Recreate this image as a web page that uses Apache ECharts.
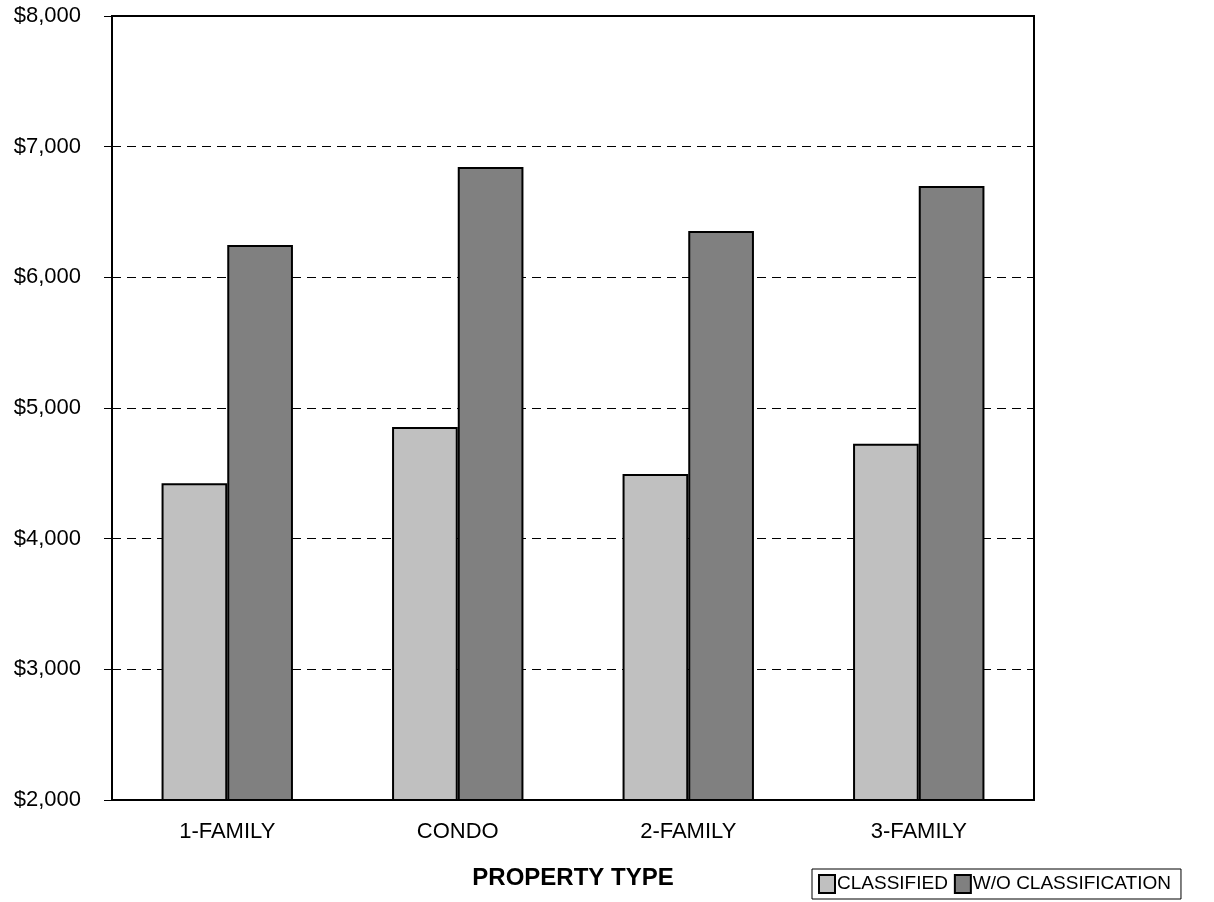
<!DOCTYPE html>
<html>
<head>
<meta charset="utf-8">
<script src="https://cdn.jsdelivr.net/npm/echarts@6/dist/echarts.min.js"></script>
<style>
  html, body { margin: 0; padding: 0; background: #fff; }
  #chart { width: 1214px; height: 902px; }
</style>
</head>
<body>
<div id="chart"></div>
<script>
// Property types along the x axis
const categories = ['1-FAMILY', 'CONDO', '2-FAMILY', '3-FAMILY'];
// Average values per property type
const classified = [4424, 4855, 4495, 4727];
const withoutClassification = [6248, 6844, 6355, 6699];
// Value axis range
const yMin = 2000;
const yMax = 8000;
const yStep = 1000;

const FONT = '"Liberation Sans", Arial, sans-serif';

const chart = echarts.init(document.getElementById('chart'), null, { renderer: 'canvas' });

const fmtMoney = v => '$' + v.toLocaleString('en-US');

chart.setOption({
  backgroundColor: '#ffffff',
  animation: false,
  grid: {
    left: 112, top: 16, right: 180, bottom: 102,
    show: true, borderColor: '#000', borderWidth: 2, backgroundColor: 'transparent'
  },
  legend: {
    left: 812, top: 869,
    orient: 'horizontal',
    itemWidth: 16, itemHeight: 18, itemGap: 6,
    padding: [5, 10, 5, 6],
    borderColor: '#000', borderWidth: 1,
    icon: 'rect',
    textStyle: { fontFamily: FONT, fontSize: 19, color: '#000', padding: [0, 0, 0, -3] },
    data: ['CLASSIFIED', 'W/O CLASSIFICATION']
  },
  xAxis: {
    type: 'category',
    data: categories,
    name: 'PROPERTY TYPE',
    nameLocation: 'middle',
    nameGap: 66,
    nameTextStyle: { fontFamily: FONT, fontSize: 24, fontWeight: 'bold', color: '#000' },
    axisLine: { lineStyle: { color: '#000', width: 2 } },
    axisTick: { inside: true, length: 6, lineStyle: { color: '#000', width: 1 } },
    axisLabel: { fontFamily: FONT, fontSize: 22, color: '#000', margin: 21 },
    splitLine: { show: false }
  },
  yAxis: {
    type: 'value',
    min: yMin, max: yMax, interval: yStep,
    axisLine: { show: true, lineStyle: { color: '#000', width: 2 } },
    axisTick: { show: true, length: 8, lineStyle: { color: '#000', width: 1 } },
    axisLabel: { fontFamily: FONT, fontSize: 22, color: '#000', margin: 31, formatter: fmtMoney },
    splitLine: { show: true, lineStyle: { color: '#000', width: 1, type: [9, 6] } }
  },
  series: [
    {
      name: 'CLASSIFIED',
      type: 'bar',
      data: classified,
      barGap: '0%',
      barCategoryGap: '43%',
      itemStyle: { color: '#C0C0C0', borderColor: '#000', borderWidth: 2 }
    },
    {
      name: 'W/O CLASSIFICATION',
      type: 'bar',
      data: withoutClassification,
      itemStyle: { color: '#808080', borderColor: '#000', borderWidth: 2 }
    }
  ]
});
</script>
</body>
</html>
